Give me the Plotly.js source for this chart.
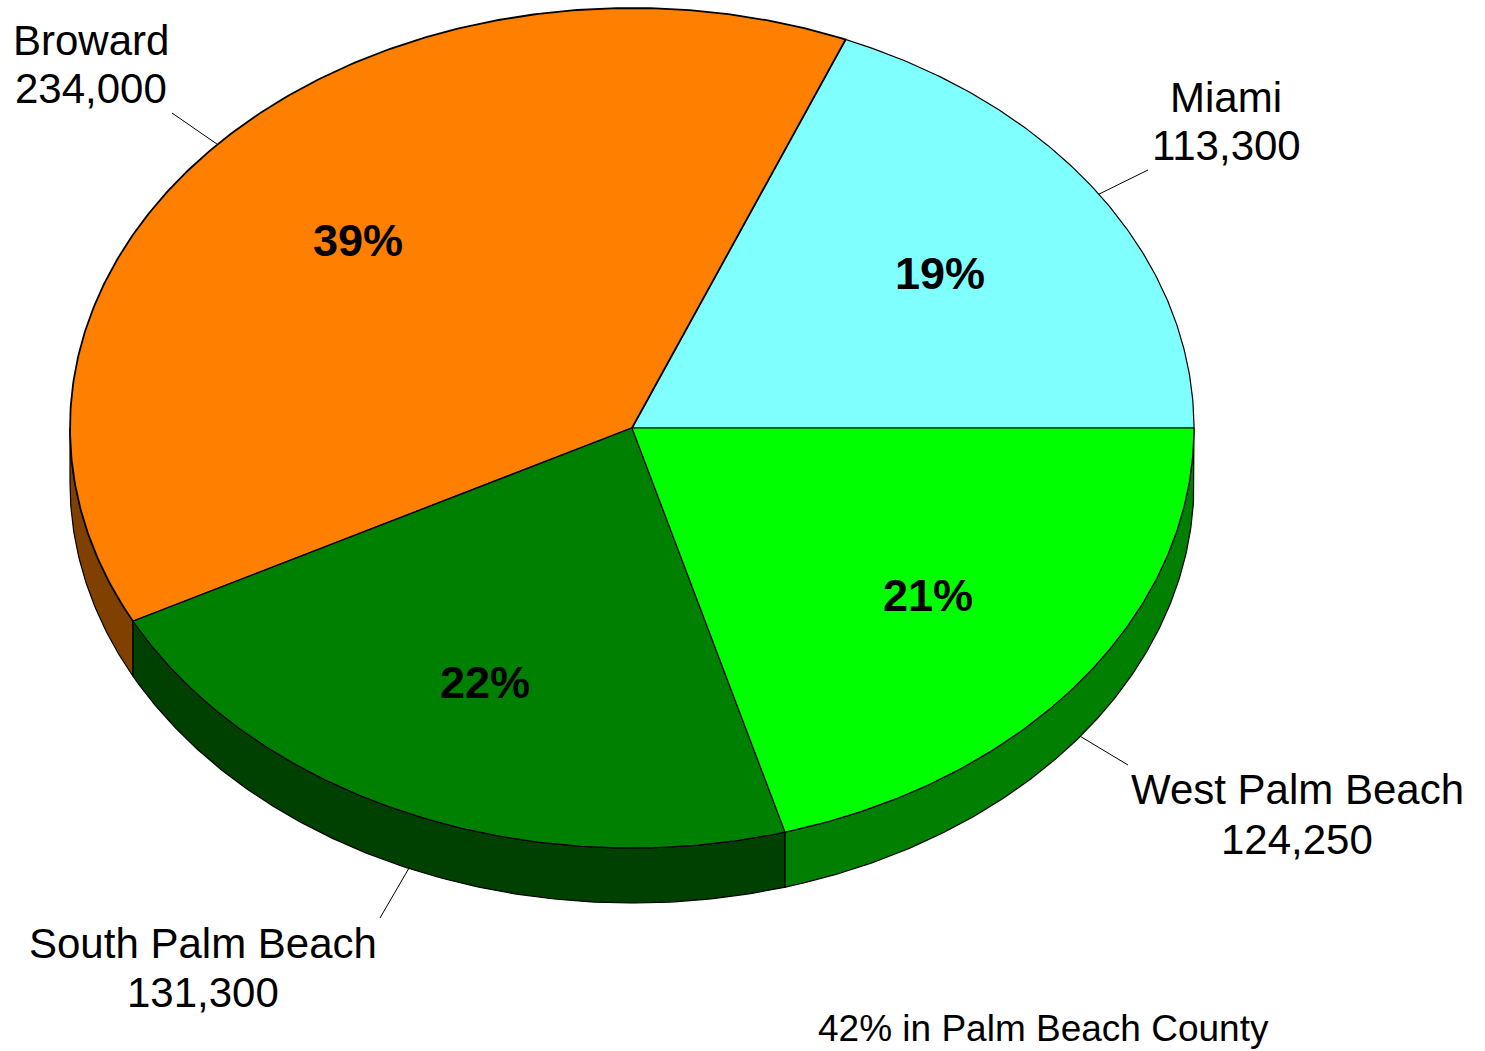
<!DOCTYPE html>
<html>
<head>
<meta charset="utf-8">
<script src="https://cdn.plot.ly/plotly-3.0.1.min.js"></script>
<style>html,body{margin:0;padding:0;background:#fff;}#chart{width:1485px;height:1051px;}</style>
</head>
<body>
<div id="chart"></div>
<script>
// ---- data ----
const categories = ['Miami', 'Broward', 'South Palm Beach', 'West Palm Beach'];
const values = [113300, 234000, 131300, 124250];
const topColors = ['#80FFFF', '#FF8000', '#008000', '#00FF00'];
const sideColors = ['#408080', '#804000', '#004000', '#007F00'];
const footnoteGroup = ['South Palm Beach', 'West Palm Beach'];
const footnoteLabel = 'in Palm Beach County';

// ---- geometry (layout) ----
const W = 1485, H = 1051;
const CX = 632, CY = 428, RX = 562, RY = 420, DEPTH = 55;
const PCT_R = 0.66;
// label placement: [x, nameY, valueY]
const labelPos = {
  'Miami': [1226, 97, 145],
  'Broward': [91, 40, 88.5],
  'South Palm Beach': [203, 943, 992],
  'West Palm Beach': [1297, 789, 839]
};
// outer end of leader lines
const leaderOuter = {
  'Miami': [1148, 170],
  'Broward': [172, 113],
  'South Palm Beach': [380, 918],
  'West Palm Beach': [1128, 765]
};

const total = values.reduce((a, b) => a + b, 0);
const rad = d => d * Math.PI / 180;
function pt(deg, dy, f) {
  f = f === undefined ? 1 : f;
  return [CX + RX * f * Math.cos(rad(deg)), CY - RY * f * Math.sin(rad(deg)) + (dy || 0)];
}
function arc(a1, a2, dy) {
  const pts = [];
  const n = Math.max(2, Math.ceil(Math.abs(a2 - a1) / 0.5));
  for (let i = 0; i <= n; i++) pts.push(pt(a1 + (a2 - a1) * i / n, dy));
  return pts;
}
const fmt = v => v.toLocaleString('en-US');

const sideTraces = [], topTraces = [], annotations = [], shapes = [];
let start = 0;
values.forEach((v, i) => {
  const sweep = v / total * 360;
  const a1 = start, a2 = start + sweep;
  const mid = (a1 + a2) / 2;
  // side
  const lo = Math.max(a1, 180), hi = Math.min(a2, 360);
  if (lo < hi) {
    const p = arc(lo, hi, 0).concat(arc(hi, lo, DEPTH));
    p.push(p[0]);
    sideTraces.push({
      type: 'scatter', mode: 'lines', fill: 'toself',
      x: p.map(q => q[0]), y: p.map(q => q[1]),
      fillcolor: sideColors[i], line: {color: '#000', width: 1.2},
      hoverinfo: 'skip', showlegend: false
    });
  }
  // top face
  const t = [[CX, CY]].concat(arc(a1, a2, 0));
  t.push([CX, CY]);
  topTraces.push({
    type: 'scatter', mode: 'lines', fill: 'toself',
    x: t.map(q => q[0]), y: t.map(q => q[1]),
    fillcolor: topColors[i], line: {color: '#000', width: categories[i] === 'Broward' ? 1.8 : 1.2},
    hoverinfo: 'skip', showlegend: false
  });
  // percent label
  const pp = pt(mid, 0, PCT_R);
  annotations.push({
    x: pp[0], y: pp[1], xref: 'x', yref: 'y', showarrow: false,
    text: '<b>' + Math.round(v / total * 100) + '%</b>',
    font: {family: 'Liberation Sans, Arial, sans-serif', size: 45, color: '#000'},
    xanchor: 'center', yanchor: 'middle'
  });
  // name/value labels
  const name = categories[i];
  const lp = labelPos[name];
  annotations.push({
    x: lp[0], y: lp[1], xref: 'x', yref: 'y', showarrow: false, text: name,
    font: {family: 'Liberation Sans, Arial, sans-serif', size: 42, color: '#000'},
    xanchor: 'center', yanchor: 'middle'
  });
  annotations.push({
    x: lp[0], y: lp[2], xref: 'x', yref: 'y', showarrow: false, text: fmt(v),
    font: {family: 'Liberation Sans, Arial, sans-serif', size: 42, color: '#000'},
    xanchor: 'center', yanchor: 'middle'
  });
  // leader line
  const inner = pt(mid, (mid > 180 && mid < 360) ? DEPTH : 0);
  const outer = leaderOuter[name];
  shapes.push({
    type: 'line', xref: 'x', yref: 'y',
    x0: inner[0], y0: inner[1], x1: outer[0], y1: outer[1],
    line: {color: '#000', width: 1}
  });
  start = a2;
});

const groupPct = Math.round(
  categories.reduce((s, c, i) => s + (footnoteGroup.includes(c) ? values[i] : 0), 0) / total * 100);
annotations.push({
  x: 816, y: 1028, xref: 'x', yref: 'y', showarrow: false,
  text: groupPct + '% ' + footnoteLabel,
  font: {family: 'Liberation Sans, Arial, sans-serif', size: 37, color: '#000'},
  xanchor: 'left', yanchor: 'middle'
});

const layout = {
  width: W, height: H,
  margin: {l: 0, r: 0, t: 0, b: 0},
  paper_bgcolor: '#fff', plot_bgcolor: '#fff',
  xaxis: {range: [0, W], visible: false, fixedrange: true},
  yaxis: {range: [H, 0], visible: false, fixedrange: true},
  showlegend: false,
  annotations: annotations,
  shapes: shapes
};

Plotly.newPlot('chart', sideTraces.concat(topTraces), layout, {displayModeBar: false, staticPlot: true});
</script>
</body>
</html>
